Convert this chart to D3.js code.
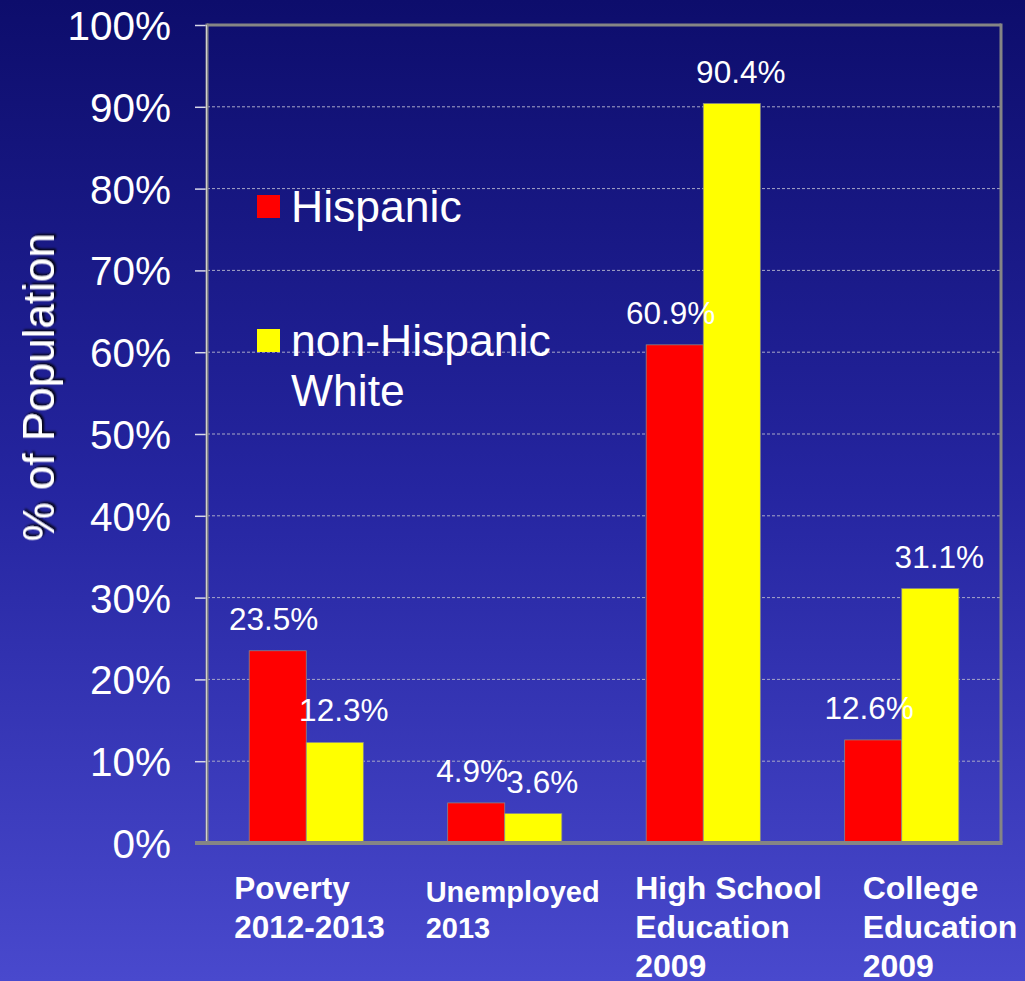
<!DOCTYPE html>
<html>
<head>
<meta charset="utf-8">
<script src="https://cdn.jsdelivr.net/npm/d3@7"></script>
<style>
  html, body { margin: 0; padding: 0; background: #2a2a9e; }
  svg { display: block; font-family: "Liberation Sans", Arial, sans-serif; }
</style>
</head>
<body>
<svg id="chart" width="1025" height="981"></svg>
<script>
// Chart data
const categories = ["Poverty\n2012-2013", "Unemployed\n2013", "High School\nEducation\n2009", "College\nEducation\n2009"];
const seriesNames = ["Hispanic", "non-Hispanic\nWhite"];
const hispanic = [23.5, 4.9, 60.9, 12.6];
const nonHispanicWhite = [12.3, 3.6, 90.4, 31.1];
const yTicks = [0, 10, 20, 30, 40, 50, 60, 70, 80, 90, 100];
const seriesColors = ["#ff0000", "#ffff00"];

const svg = d3.select("#chart");
const W = 1025, H = 981;
const plot = { left: 207, right: 1001, top: 25, bottom: 843 };

// Background gradient
const defs = svg.append("defs");
const grad = defs.append("linearGradient").attr("id", "bg").attr("x1", 0).attr("y1", 0).attr("x2", 0).attr("y2", 1);
grad.append("stop").attr("offset", "0%").attr("stop-color", "#0d0d6c");
grad.append("stop").attr("offset", "50%").attr("stop-color", "#2525a0");
grad.append("stop").attr("offset", "100%").attr("stop-color", "#4949cd");
const shadow = defs.append("filter").attr("id", "shadow").attr("x", "-20%").attr("y", "-20%").attr("width", "140%").attr("height", "140%");
shadow.append("feDropShadow").attr("dx", 2).attr("dy", 2).attr("stdDeviation", 0.8).attr("flood-color", "#000").attr("flood-opacity", 0.9);

svg.append("rect").attr("width", W).attr("height", H).attr("fill", "url(#bg)");

// Scales
const x = d3.scaleBand().domain(d3.range(categories.length))
  .range([plot.left, plot.right]).paddingInner(0.425).paddingOuter(0.2125);
const xs = d3.scaleBand().domain([0, 1]).range([0, x.bandwidth()]);
const y = d3.scaleLinear().domain([0, 100]).range([plot.bottom, plot.top]);

// Gridlines
svg.append("g").selectAll("line").data(yTicks.filter(t => t > 0 && t < 100)).join("line")
  .attr("x1", plot.left).attr("x2", plot.right)
  .attr("y1", d => y(d)).attr("y2", d => y(d))
  .attr("stroke", "#a8a8c8").attr("stroke-width", 1).attr("stroke-dasharray", "3,2");

// Y axis
const yAxis = d3.axisLeft(y).tickValues(yTicks).tickFormat(d => d + "%").tickSize(12).tickPadding(24);
const gy = svg.append("g").attr("transform", `translate(${plot.left},0)`).call(yAxis);
gy.select(".domain").remove();
gy.selectAll(".tick line").attr("stroke", "#d8d8e8").attr("stroke-width", 1.5);
gy.selectAll(".tick text").attr("fill", "#ffffff").attr("font-size", 40.5)
  .attr("font-family", "'Liberation Sans', Arial, sans-serif").attr("dy", "0.36em");

// Frame
svg.append("line").attr("x1", plot.left).attr("x2", plot.right).attr("y1", plot.top).attr("y2", plot.top)
  .attr("stroke", "#858585").attr("stroke-width", 3);
svg.append("line").attr("x1", plot.right).attr("x2", plot.right).attr("y1", plot.top - 1.5).attr("y2", plot.bottom)
  .attr("stroke", "#858585").attr("stroke-width", 3);
svg.append("line").attr("x1", plot.left).attr("x2", plot.left).attr("y1", plot.top - 1.5).attr("y2", plot.bottom)
  .attr("stroke", "#8a8a8a").attr("stroke-width", 3);
svg.append("line").attr("x1", plot.left - 0.5).attr("x2", plot.left - 0.5).attr("y1", plot.top).attr("y2", plot.bottom)
  .attr("stroke", "#d0d0d0").attr("stroke-width", 1);

// Bars
const rows = categories.map((c, i) => [hispanic[i], nonHispanicWhite[i]]);
const groups = svg.append("g").selectAll("g").data(rows).join("g")
  .attr("transform", (d, i) => `translate(${x(i)},0)`);
groups.selectAll("rect").data(d => d).join("rect")
  .attr("x", (d, j) => xs(j)).attr("width", xs.bandwidth())
  .attr("y", d => y(d)).attr("height", d => y(0) - y(d))
  .attr("fill", (d, j) => seriesColors[j])
  .attr("stroke", "#8a8a8a").attr("stroke-width", 0.75);

// Bottom axis line
svg.append("line").attr("x1", plot.left - 12).attr("x2", plot.right + 1.5).attr("y1", plot.bottom).attr("y2", plot.bottom)
  .attr("stroke", "#858585").attr("stroke-width", 4);

// Value labels
const labelShift = [-4, 9];
groups.selectAll("text.val").data(d => d).join("text").attr("class", "val")
  .attr("x", (d, j) => xs(j) + xs.bandwidth() / 2 + labelShift[j])
  .attr("y", d => y(d) - 21)
  .attr("text-anchor", "middle").attr("fill", "#ffffff").attr("font-size", 31.5)
  .text(d => d.toFixed(1) + "%");

// Category labels
const catShift = [-15, -22, -11, 18];
const catSize = [31.5, 29, 32, 32];
categories.forEach((c, i) => {
  const t = svg.append("text").attr("x", x(i) + catShift[i]).attr("y", i === 1 ? 902 : 899)
    .attr("fill", "#ffffff").attr("font-weight", "bold").attr("font-size", catSize[i]);
  c.split("\n").forEach((line, k) => {
    t.append("tspan").attr("x", x(i) + catShift[i]).attr("dy", k === 0 ? 0 : (i === 1 ? 36 : 39)).text(line);
  });
});

// Y axis title
svg.append("text")
  .attr("transform", `translate(54,${(235 + 540) / 2}) rotate(-90)`)
  .attr("text-anchor", "middle").attr("fill", "#ffffff").attr("font-size", 44)
  .attr("filter", "url(#shadow)")
  .text("% of Population");

// Legend
const legendY = [195, 329];
seriesNames.forEach((name, j) => {
  svg.append("rect").attr("x", 257).attr("y", legendY[j]).attr("width", 23).attr("height", 23)
    .attr("fill", seriesColors[j]);
  const t = svg.append("text").attr("x", 291).attr("y", legendY[j] + 27)
    .attr("fill", "#ffffff").attr("font-size", 44.5);
  name.split("\n").forEach((line, k) => {
    t.append("tspan").attr("x", 291).attr("dy", k === 0 ? 0 : 50).text(line);
  });
});
</script>
</body>
</html>
